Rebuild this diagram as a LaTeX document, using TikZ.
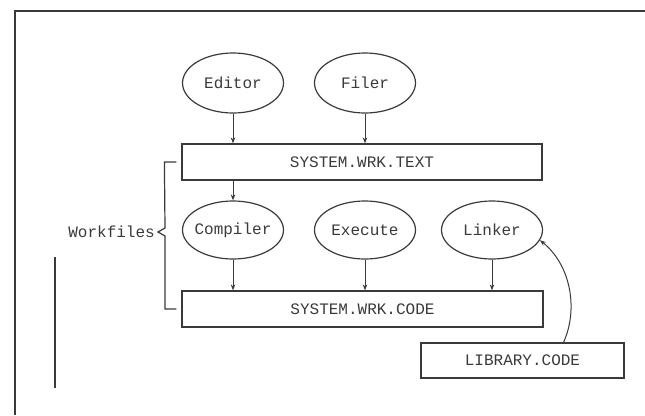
\documentclass[tikz,border=0pt]{standalone}
\usepackage{fontspec}
\setmonofont{Liberation Mono}
\usetikzlibrary{shapes.geometric,arrows.meta}
\definecolor{inkgray}{HTML}{3A3A3A}
\newcommand{\nowidth}[1]{\makebox[0pt]{#1}}

\tikzset{
    filebox/.style={draw=inkgray, line width=1.2pt, minimum height=36pt, inner sep=0pt,
        font=\ttfamily\fontsize{16}{16}\selectfont, text=inkgray},
    progoval/.style={ellipse, draw=inkgray, line width=1.2pt, minimum width=101pt,
        minimum height=58pt, inner sep=0pt, font=\ttfamily\fontsize{16}{16}\selectfont, text=inkgray},
    flow/.style={draw=inkgray, line width=1pt, -{Stealth[length=6pt,width=4.5pt]}}
}

\begin{document}
\begin{tikzpicture}[x=1pt, y=-1pt]
                \useasboundingbox (0,0) rectangle (645,415);
                % frame
                \draw[inkgray, line width=1.8pt] (645,11) -- (15,11) -- (15,415);
                \draw[inkgray, line width=1.2pt] (55,257) -- (55,388);

                \node[progoval, minimum height=60pt] (editor) at (233,83) {\nowidth{Editor}};
                \node[progoval, minimum height=60pt] (filer) at (365,83) {\nowidth{Filer}};
                \node[filebox, minimum width=360pt] (wtext) at (362,162) {SYSTEM.WRK.TEXT};

                \node[progoval] (compiler) at (233,230) {\nowidth{Compiler}};
                \node[progoval] (execute) at (365,230) {\nowidth{Execute}};
                \node[progoval] (linker) at (492,230) {\nowidth{Linker}};
                \node[filebox, minimum width=361pt] (wcode) at (362.5,309) {SYSTEM.WRK.CODE};

                \node[filebox, minimum width=203pt, minimum height=35pt] (library) at (522.5,360.5) {LIBRARY.CODE};

                \node[font=\ttfamily\fontsize{16}{16}\selectfont, text=inkgray, inner sep=0pt, anchor=east] (workfiles) at (155,232) {Workfiles};

                % connectors
                \draw[flow] (editor.south) -- (editor.south |- wtext.north);
                \draw[flow] (filer.south) -- (filer.south |- wtext.north);
                \draw[flow] (compiler.north |- wtext.south) -- (compiler.north);
                \draw[flow] (compiler.south) -- (compiler.south |- wcode.north);
                \draw[flow] (execute.south) -- (execute.south |- wcode.north);
                \draw[flow] (linker.south) -- (linker.south |- wcode.north);
                \draw[flow] ([xshift=41pt]library.north) .. controls +(15,-33) and +(31,25) .. (linker.-12);

                % bracket for the workfiles
                \draw[inkgray, line width=1.2pt] ([xshift=-5pt]wtext.west) -- ++(-12,0)
                    -- ([xshift=10pt,yshift=4pt]workfiles.east) -- ([xshift=3pt]workfiles.east)
                    -- ([xshift=10pt,yshift=-4pt]workfiles.east) |- ([xshift=-5pt]wcode.west);
\end{tikzpicture}
\end{document}
